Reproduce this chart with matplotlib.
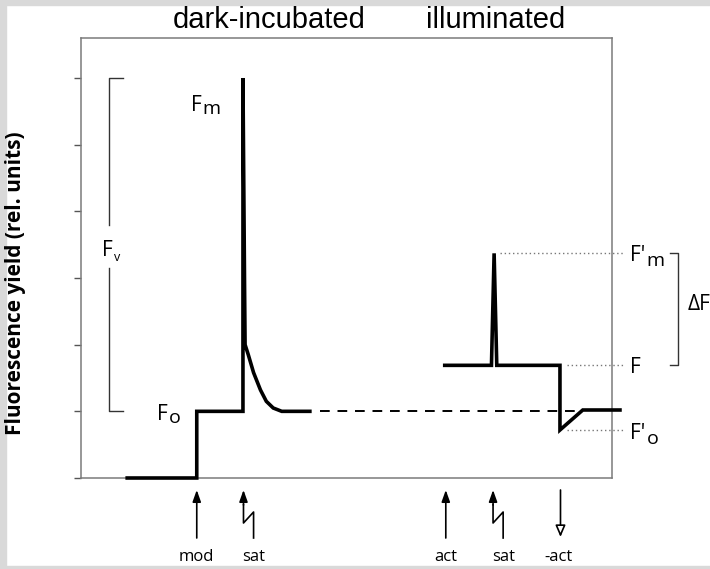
import matplotlib
matplotlib.use('Agg')
import matplotlib.pyplot as plt
from matplotlib.patches import Rectangle

plt.rcParams['font.family'] = ['Open Sans', 'DejaVu Sans']

# dark-incubated trace: measuring light on, then saturating flash
dark_t = [8.7, 21.8, 21.8, 30.5, 30.5, 30.8, 30.9, 31.5, 32.5, 33.8, 34.9, 36.2, 37.8, 43.1]
dark_y = [0.0, 0.0, 1.0, 1.0, 6.0, 2.9, 2.0, 1.85, 1.58, 1.32, 1.15, 1.05, 1.0, 1.0]

# illuminated trace: actinic light, flash, actinic off
light_t = [68.5, 77.3, 77.8, 78.3, 90.2, 90.2, 94.5, 101.5]
light_y = [1.69, 1.69, 3.37, 1.69, 1.69, 0.72, 1.02, 1.02]

fo_level = 1.0
fm_level = 6.0
f_level = 1.69
fm_prime = 3.37
fo_prime = 0.72

events = ['mod', 'sat', 'act', 'sat', '-act']
event_t = [21.8, 30.6, 68.7, 77.6, 90.3]
event_kind = ['up', 'flash', 'up', 'flash', 'down']

W, H = 710, 569
fig = plt.figure(figsize=(W / 100, H / 100), dpi=100)
ax = fig.add_axes([81 / W, 1 - 478 / H, (612 - 81) / W, (478 - 38) / H])
ax.set_xlim(0, 100)
ax.set_ylim(0, 6.6)


def py_to_y(py):
    return (478 - py) / 66.67


for s in ax.spines.values():
    s.set_color('#7a7a7a')
    s.set_linewidth(1.1)
ax.set_xticks([])
ax.set_yticks(range(7))
ax.set_yticklabels([])
ax.tick_params(axis='y', length=5, width=1, color='#555555', direction='out')

ax.plot(dark_t, dark_y, color='black', lw=2.6, solid_joinstyle='miter', clip_on=False, zorder=3)
ax.plot(light_t, light_y, color='black', lw=2.6, solid_joinstyle='miter', clip_on=False, zorder=3)
ax.plot([45, 94.5], [fo_level, fo_level], color='black', lw=1.4, dashes=(5, 4), zorder=2)

# reference levels for the illuminated state
dot_kw = dict(color='#777777', lw=1.0, ls=(0, (1, 2)), clip_on=False)
ax.plot([78.9, 102.1], [fm_prime, fm_prime], **dot_kw)
ax.plot([91.5, 102.1], [f_level, f_level], **dot_kw)
ax.plot([91.5, 102.1], [fo_prime, fo_prime], **dot_kw)


def sub_label(x, y, main, sub, size=15, sub_size=14, drop=1.5):
    t = ax.text(x, y, main, fontsize=size, ha='left', va='baseline', clip_on=False)
    ax.annotate(sub, xy=(1, 0), xycoords=t, xytext=(0.8, -drop), textcoords='offset points',
                fontsize=sub_size, ha='left', va='bottom', annotation_clip=False)


sub_label(20.7, 5.5, 'F', 'm')
sub_label(14.3, 0.87, 'F', 'o')
sub_label(3.9, 3.33, 'F', 'v', sub_size=9, drop=2.5)
sub_label(103.4, fm_prime - 0.12, "F'", 'm', drop=2.5)
ax.text(103.4, f_level - 0.12, 'F', fontsize=15, ha='left', va='baseline', clip_on=False)
sub_label(103.4, fo_prime - 0.14, "F'", 'o', drop=2.5)
ax.text(114.3, 2.52, '\u0394F', fontsize=15, ha='left', va='baseline', clip_on=False)

# Fv bracket on the left
br_kw = dict(color='#333333', lw=1.0, clip_on=False)
ax.plot([7.9, 5.3, 5.3], [fm_level, fm_level, 3.8], **br_kw)
ax.plot([5.3, 5.3, 7.9], [3.15, fo_level, fo_level], **br_kw)
# delta F bracket on the right
ax.plot([110.9, 112.4, 112.4, 110.9], [fm_prime, fm_prime, f_level, f_level], **br_kw)

# event markers below the axis
tip, tail = py_to_y(490), py_to_y(538)
lab_y = py_to_y(557)
head = '-|>,head_length=0.7,head_width=0.25'
for name, t, kind in zip(events, event_t, event_kind):
    if kind == 'up':
        ax.annotate('', xy=(t, tip), xytext=(t, tail), annotation_clip=False,
                    arrowprops=dict(arrowstyle=head, color='black', lw=1.2, shrinkA=0, shrinkB=0))
        lx = t
    elif kind == 'flash':
        dx = 1.9
        ax.plot([t + dx, t + dx, t, t], [tail, py_to_y(512), py_to_y(523), py_to_y(505)],
                color='black', lw=1.2, clip_on=False)
        ax.annotate('', xy=(t, tip), xytext=(t, py_to_y(505)), annotation_clip=False,
                    arrowprops=dict(arrowstyle=head, color='black', lw=1.2, shrinkA=0, shrinkB=0))
        lx = t + 1.9
    else:
        ax.annotate('', xy=(t, py_to_y(537)), xytext=(t, tip), annotation_clip=False,
                    arrowprops=dict(arrowstyle='-|>,head_length=0.7,head_width=0.3',
                                    fc='white', ec='black', lw=1.2, shrinkA=0, shrinkB=0))
        lx = t - 0.4
    ax.text(lx, lab_y, name, ha='center', va='center', fontsize=12, clip_on=False)

ax.set_ylabel('Fluorescence yield (rel. units)', fontsize=15, fontweight='bold')
ax.yaxis.set_label_coords(-0.103, 0.443)

title_kw = dict(fontsize=21, family=['Liberation Sans Narrow', 'Liberation Sans'],
                ha='center', va='baseline')
fig.text(269 / W, 1 - 28 / H, 'dark-incubated', **title_kw)
fig.text(496 / W, 1 - 28 / H, 'illuminated', **title_kw)

# light grey frame around the figure
grey = '#d9d9d9'
fig.patches.append(Rectangle((0, 0), 6 / W, 1, transform=fig.transFigure, color=grey, zorder=-1))
fig.patches.append(Rectangle((0, 1 - 5 / H), 1, 5 / H, transform=fig.transFigure, color=grey, zorder=-1))
fig.patches.append(Rectangle((0, 0), 1, 3 / H, transform=fig.transFigure, color=grey, zorder=-1))

fig.savefig('out.png', dpi=100)
